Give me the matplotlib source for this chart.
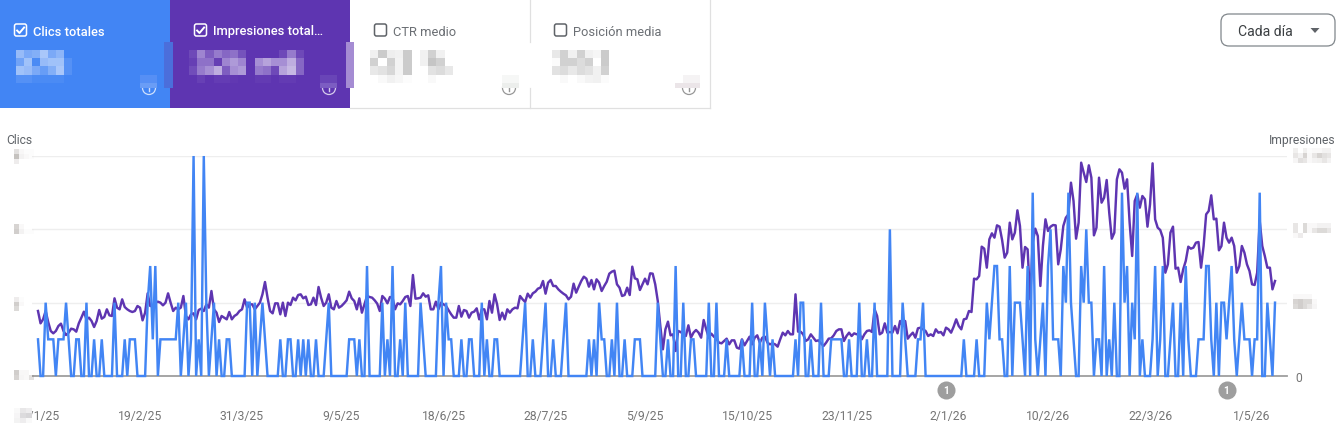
import pandas as pd
import matplotlib
matplotlib.use("Agg")
import matplotlib.pyplot as plt
from matplotlib.patches import Rectangle, FancyBboxPatch, Circle, Polygon

plt.rcParams['font.family'] = ['Roboto', 'DejaVu Sans']

start_date = "2025-01-10"
clicks = [
    1,0,0,2,1,1,1,0,1,1, 1,2,1,0,0,1,1,0,0,2, 0,0,1,0,0,1,0,0,0,0, 2,0,0,0,1,0,1,1,1,0,
    0,0,0,2,3,1,3,0,1,1, 1,1,1,1,1,2,0,1,2,0, 1,6,0,1,0,6,2,0,1,2, 0,1,0,0,1,1,0,0,0,0,
    0,0,2,2,0,2,0,1,2,1, 0,0,0,0,0,1,0,0,1,1, 0,0,1,0,1,0,1,0,0,1, 0,0,0,1,2,0,0,0,0,0,
    0,0,1,1,1,0,1,0,0,3, 0,0,0,0,0,2,0,1,0,3, 0,0,1,0,2,0,0,0,0,0, 2,1,0,0,0,0,0,2,3,0,
    2,1,1,0,0,0,1,0,0,1, 1,0,0,0,2,0,1,0,0,1, 1,0,0,0,0,0,0,0,0,0, 1,2,0,0,1,0,0,0,1,2,
    0,0,1,0,0,0,1,2,0,0, 0,0,0,0,0,0,1,0,1,0, 2,1,1,0,0,1,0,2,0,0, 1,0,0,0,1,1,1,0,0,0,
    0,0,0,2,1,0,0,1,0,0, 3,0,0,2,0,0,1,1,0,0, 0,0,0,2,0,0,2,0,0,0, 1,0,0,0,0,0,1,0,0,0,
    2,0,0,1,0,2,1,0,1,0, 0,0,0,0,0,0,0,1,0,2, 2,0,0,1,0,0,0,2,0,0, 0,1,1,1,1,1,0,0,1,0,
    0,0,2,0,0,1,0,0,2,0, 0,0,0,0,4,0,0,0,0,2, 1,0,0,0,0,1,1,2,0,0, 0,0,0,0,0,0,0,0,0,0,
    0,0,0,1,0,0,0,0,1,0, 0,0,2,1,2,3,3,1,1,0, 0,3,0,2,2,2,1,0,3,0, 5,1,0,1,2,0,3,4,1,1,
    1,0,3,2,5,2,1,0,0,3, 2,4,2,2,0,1,1,0,3,0, 1,0,2,0,0,5,2,3,0,2, 1,5,0,1,0,0,0,1,3,0,
    1,3,0,0,1,2,0,0,2,0, 3,1,0,0,0,1,1,1,3,3, 1,0,2,0,2,2,1,2,3,1, 0,1,2,1,1,1,0,1,1,5,
    0,0,2,1,0,2,
]
# Impressions: true values are masked in the source, so these are relative readings.
impressions = [
    195,158,170,195,162,135,128,135,150,157, 135,123,130,142,140,133,158,175,193,170,
    175,165,147,165,198,172,177,200,182,180, 233,205,200,230,207,200,195,192,195,210,
    205,167,190,248,210,210,220,223,220,212, 220,248,220,195,205,200,205,240,180,170,
    185,188,170,198,202,195,215,205,255,200, 190,162,180,175,170,192,170,180,185,195,
    200,230,205,215,215,200,210,220,245,282, 235,195,188,218,218,185,220,180,220,213,
    235,227,243,245,233,238,213,215,235,213, 267,235,210,220,245,205,200,225,205,210,
    218,227,253,233,225,200,233,190,215,240, 237,235,227,217,195,240,232,218,237,235,
    200,218,215,225,237,240,210,303,232,233, 235,248,238,242,200,200,223,200,220,215,
    210,197,185,175,175,210,178,198,195,175, 190,193,203,170,200,200,170,225,190,245,
    215,168,190,170,200,190,200,205,203,240, 230,222,247,235,248,253,262,265,285,247,
    280,288,270,270,260,253,247,242,230,238, 277,250,268,285,298,292,268,288,260,290,
    280,255,270,283,307,313,316,275,265,240, 243,265,243,328,293,290,258,275,292,275,
    308,307,275,225,150,80,140,163,122,125, 75,135,132,125,120,152,115,130,138,130,
    115,168,140,115,127,118,112,100,98,105, 112,95,107,107,85,82,110,92,105,118,
    95,115,122,100,115,118,100,95,98,95, 88,110,130,122,135,125,125,245,133,133,
    125,105,110,125,115,105,107,98,90,100, 112,113,122,135,140,140,105,120,130,120,
    128,125,128,110,125,135,137,132,200,180, 125,130,158,130,132,130,150,128,165,150,
    165,112,122,130,115,143,145,140,135,120, 125,120,140,130,132,122,145,140,130,148,
    170,150,140,170,172,195,192,292,290,300, 388,382,325,410,428,415,452,448,408,355,
    370,460,410,430,497,450,325,387,380,230, 400,442,420,270,390,470,435,448,453,452,
    335,380,450,475,485,580,525,412,460,640, 610,582,632,595,422,445,595,520,535,588,
    490,412,430,590,620,610,562,590,460,360, 525,545,505,540,530,448,515,638,470,445,
    438,415,310,335,430,448,322,325,282,320, 345,388,382,385,400,402,325,390,485,495,
    542,470,472,377,390,460,415,400,415,390, 310,330,390,370,335,315,275,273,310,465,
    390,360,325,325,260,285,
]
tick_labels = ["10/1/25", "19/2/25", "31/3/25", "9/5/25", "18/6/25", "28/7/25", "5/9/25",
               "15/10/25", "23/11/25", "2/1/26", "10/2/26", "22/3/26", "1/5/26"]
event_dates = ["1/1/26", "21/4/26"]
event_counts = ["1", "1"]
clicks_ticks = [0, 2, 4, 6]
impressions_ticks = [0, 220, 440, 660]

card_titles = ["Clics totales", "Impresiones total…", "CTR medio", "Posición media"]

W, H = 1342, 435
BLUE, PURPLE = "#4285f4", "#5e35b1"
dates = pd.date_range(start_date, periods=len(clicks))
assert len(clicks) == len(impressions)

fig = plt.figure(figsize=(W / 100, H / 100), dpi=100, facecolor="white")
page = fig.add_axes([0, 0, 1, 1], zorder=0)
page.set_xlim(0, W)
page.set_ylim(H, 0)
page.axis("off")


def rect(x0, y0, x1, y1, color, zorder=1, alpha=1):
    page.add_patch(Rectangle((x0, y0), x1 - x0, y1 - y0, fc=color, ec="none", alpha=alpha,
                             zorder=zorder, antialiased=False))


def mosaic(x, y, cw, ch, rows, color, zorder=3):
    for r, row in enumerate(rows):
        for c, a in enumerate(row):
            if a:
                rect(x + c * cw, y + r * ch, x + (c + 1) * cw, y + (r + 1) * ch, color, zorder, a)


# Cards
rect(0, 0, 170, 109, BLUE)
rect(170, 0, 350, 109, PURPLE)
page.plot([709.5, 709.5], [0, 109], color="#e0e0e0", lw=0.9, zorder=2)
page.plot([350, 710], [108.5, 108.5], color="#e0e0e0", lw=0.9, zorder=2)
page.plot([529.5, 529.5], [0, 43], color="#e0e0e0", lw=0.9, zorder=2)
page.plot([529.5, 529.5], [89, 109], color="#e0e0e0", lw=0.9, zorder=2)
rect(164, 43, 173, 89, "#4b6edb", 4)
rect(346, 43, 354, 89, "#a58cd3", 4)

checks = [(14.5, True, "white"), (194.5, True, "white"), (374.5, False, "#5f6368"), (554.5, False, "#5f6368")]
text_x = [33, 213, 393, 573]
for (cx, on, col), tx, title in zip(checks, text_x, card_titles):
    page.add_patch(FancyBboxPatch((cx + 1, 26), 10, 10, boxstyle="round,pad=1,rounding_size=2",
                                  fc="none", ec=col, lw=1.1, zorder=4))
    if on:
        page.plot([cx + 2.6, cx + 5, cx + 9.6], [31.5, 34, 28.5], color="white", lw=1.4, zorder=4)
    page.text(tx, 32, title, color="white" if on else "#6b6f74", fontsize=9.3,
              fontweight="medium" if on else "normal", va="center", ha="left", zorder=4)

# Info icons, half covered by the mosaics
for ic, col in [(149, "white"), (329, "white"), (509, "#757575"), (689, "#757575")]:
    page.add_patch(Circle((ic, 89), 6.5, fc="none", ec=col, lw=0.9, alpha=0.75, zorder=2.5))
    page.plot([ic, ic], [88.5, 92], color=col, lw=1, alpha=0.75, zorder=2.5)
rect(140, 76, 157, 84, "#568ff5", 3); rect(140, 84, 157, 89, "#6a9df6", 3)
rect(320, 76, 337, 84, "#6945b7", 3); rect(320, 84, 337, 89, "#7c5dc2", 3)
rect(502, 76, 519, 84, "#f6f7f6", 3); rect(502, 84, 519, 89, "#eceeec", 3)
rect(683, 76, 700, 84, "#f5f3f4", 3); rect(675, 84, 700, 89, "#ebe5e8", 3)

# Masked card values
mosaic(16, 51, 8, 8.2, [[.45, .3, .35, .55, .3, .4, 0], [.25, .5, .05, .45, .5, .5, .1],
                        [.5, .45, .3, .2, .35, .55, .1], [.1, .1, .05, .05, .05, .05, 0]], "white")
mosaic(189, 51, 8.2, 8.2, [[.1, .4, .2, .35, .25, .3, .15, 0, 0, 0, 0, .1, .35, .1],
                           [.05, .3, .3, .05, .4, .5, .4, 0, .45, .55, .45, .45, .6, .25],
                           [.12, .35, .45, .6, .2, .45, .5, 0, .35, .3, .1, .55, .65, .25],
                           [0, .06, 0, .04, .04, .02, 0, 0, .03, .03, 0, .03, .03, 0]], "white")
mosaic(370, 51, 8.3, 8.2, [[.12, .45, .15, .12, .45, 0, .12, .4, .12, 0],
                           [.4, 0, .4, .1, .45, 0, .12, .5, .4, 0],
                           [.2, .25, .35, .1, .45, 0, 0, .25, .3, .2],
                           [0, .05, .12, .08, .02, 0, 0, .05, 0, 0]], "#8d8d8d")
mosaic(552, 51, 8.2, 8.2, [[.2, .4, .12, .4, .12, .08, .45], [.03, .4, .4, .3, .4, 0, .45],
                           [.25, .3, .2, .3, .25, .12, .4], [0, .05, 0, .05, .1, .12, .03]], "#8d8d8d")

# Dropdown
page.add_patch(FancyBboxPatch((1225, 19), 106, 24, boxstyle="round,pad=4,rounding_size=8",
                              fc="white", ec="#80868b", lw=0.9, zorder=2))
page.text(1238, 32, "Cada día", color="#3c4043", fontsize=10.1, va="center", ha="left", zorder=3)
page.add_patch(Polygon([(1310.5, 29), (1319.5, 29), (1315, 34)], closed=True, fc="#5f6368", ec="none", zorder=3))

# Axis titles
page.text(6, 141, "Clics", color="#5f6368", fontsize=8.7, va="center", ha="left")
page.text(1335, 141, "Impresiones", color="#5f6368", fontsize=8.7, va="center", ha="right")

# Chart
left, right, top, bottom = 32, 1287, 157, 377
ax = fig.add_axes([left / W, 1 - bottom / H, (right - left) / W, (bottom - top) / H], zorder=2)
ax2 = ax.twinx()
ax.set_zorder(3)
ax2.set_zorder(2)
ax.patch.set_visible(False)
ax2.patch.set_visible(False)

x_lo = dates[0] - pd.Timedelta(days=2.35)
x_hi = dates[-1] + pd.Timedelta(days=4.7)
ax.set_xlim(x_lo, x_hi)
ax.set_ylim(0, 6)
ax2.set_ylim(0, 660)

ax2.plot(dates, impressions, color=PURPLE, lw=1.75, solid_joinstyle="round", zorder=3)
ax.plot(dates, clicks, color=BLUE, lw=1.75, solid_joinstyle="miter", zorder=3, clip_on=False)

ax2.set_yticks(impressions_ticks)
ax2.set_yticklabels(["0"] + [""] * (len(impressions_ticks) - 1))
ax2.tick_params(axis="y", length=0, pad=6, labelsize=8.7, labelcolor="#757575")
ax2.yaxis.grid(True, color="#eeeeee", lw=1.0)
ax.set_yticks(clicks_ticks)
ax.set_yticklabels([""] * len(clicks_ticks))
ax.tick_params(axis="y", length=0)

tick_dates = pd.to_datetime(tick_labels, format="%d/%m/%y")
ax.set_xticks(tick_dates)
ax.set_xticklabels(tick_labels)
ax.tick_params(axis="x", length=0, pad=24, labelsize=8.75, labelcolor="#757575")
ax2.tick_params(axis="x", length=0, labelbottom=False)
for a in (ax, ax2):
    for side in ("top", "left", "right"):
        a.spines[side].set_visible(False)
    a.spines["bottom"].set_visible(False)
ax2.spines["bottom"].set_visible(True)
ax2.spines["bottom"].set_color("#9e9e9e")
ax2.spines["bottom"].set_linewidth(1.3)

# Event annotations
ev_ax_y = -14 / (bottom - top)
for d, n in zip(event_dates, event_counts):
    xd = pd.to_datetime(d, format="%d/%m/%y")
    ax.plot([xd], [ev_ax_y], marker="o", ms=13, mfc="#9e9e9e", mec="none",
            transform=ax.get_xaxis_transform(), clip_on=False, zorder=5)
    ax.text(xd, ev_ax_y, n, color="white", fontsize=7.2, fontweight="bold", ha="center", va="center",
            transform=ax.get_xaxis_transform(), clip_on=False, zorder=6)

# Masked axis labels, drawn over the chart layer
cover = fig.add_axes([0, 0, 1, 1], zorder=6)
cover.set_xlim(0, W)
cover.set_ylim(H, 0)
cover.axis("off")
page = cover
mosaic(14, 150, 5, 5, [[.25, .06, .02, .02], [.5, .1, .05, .02], [.15, 0, 0, 0]], "#8d8680")
mosaic(14, 225, 5, 5, [[.35, .05, 0, 0], [.4, .1, .02, .02]], "#8d8680")
mosaic(14, 298, 5, 4.5, [[.15, .02, 0, 0], [.4, .05, 0, 0], [.3, 0, 0, 0]], "#8d8680")
rect(14, 370, 32, 381, "white", 2.5)
mosaic(14, 371, 5, 5, [[.4, .06, .06, 0], [.35, .08, .05, .25]], "#8d8680")
rect(12, 407, 32, 425, "white", 2.5)
mosaic(14, 409, 6, 5, [[.05, .2, .15], [.08, .3, .35], [.1, .15, .05]], "#8d8a90")
mosaic(1293, 149, 4.8, 5, [[.12, 0, .12, .03, .05, .05, .1, .1], [.2, .1, .35, .05, .2, .35, .25, .2],
                           [.08, .25, .2, .05, .1, .12, .2, .1]], "#8d8680")
mosaic(1293, 224, 4.8, 5, [[.2, 0, .3, .05, .05, .1, .1, .1], [.2, 0, .3, .05, .2, .3, .3, .2],
                           [.05, .15, 0, 0, 0, 0, 0, 0]], "#8d8680")
mosaic(1293, 295, 4.8, 5, [[.05, .05, .05, .05, 0], [.35, .4, .3, .3, .05], [.3, .4, .3, .2, .08]], "#8d8680")

fig.savefig("out.png", dpi=100)
